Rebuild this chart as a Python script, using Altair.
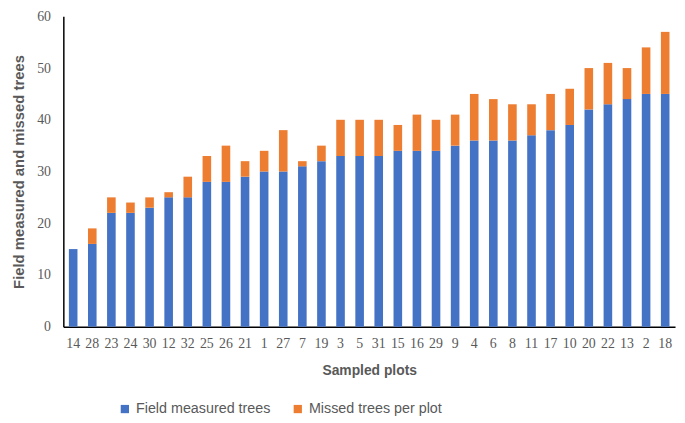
import altair as alt
import pandas as pd

plots = ["14", "28", "23", "24", "30", "12", "32", "25", "26", "21", "1", "27", "7", "19", "3",
         "5", "31", "15", "16", "29", "9", "4", "6", "8", "11", "17", "10", "20", "22", "13", "2", "18"]
field_measured = [15, 16, 22, 22, 23, 25, 25, 28, 28, 29, 30, 30, 31, 32, 33,
                  33, 33, 34, 34, 34, 35, 36, 36, 36, 37, 38, 39, 42, 43, 44, 45, 45]
missed = [0, 3, 3, 2, 2, 1, 4, 5, 7, 3, 4, 8, 1, 3, 7,
          7, 7, 5, 7, 6, 6, 9, 8, 7, 6, 7, 7, 8, 8, 6, 9, 12]

series = ["Field measured trees", "Missed trees per plot"]
colors = ["#4472C4", "#ED7D31"]

rows = []
for p, f, m in zip(plots, field_measured, missed):
    rows.append({"plot": p, "series": series[0], "value": f, "ord": 0})
    rows.append({"plot": p, "series": series[1], "value": m, "ord": 1})
df = pd.DataFrame(rows)

grey = "#595959"

chart = alt.Chart(df).mark_bar().encode(
    x=alt.X("plot:N", sort=plots,
            scale=alt.Scale(paddingInner=0.55, paddingOuter=0.29),
            axis=alt.Axis(title="Sampled plots", labelAngle=0, ticks=False,
                          domainColor="#000000", domainWidth=1.5,
                          labelFont="Liberation Serif", labelFontSize=14, labelColor=grey,
                          labelPadding=10,
                          titleFont="Liberation Sans", titleFontSize=14, titleFontWeight="bold",
                          titleColor=grey, titlePadding=13)),
    y=alt.Y("value:Q", stack="zero",
            scale=alt.Scale(domain=[0, 60], nice=False),
            axis=alt.Axis(title="Field measured and missed trees", values=[0, 10, 20, 30, 40, 50, 60],
                          grid=False, ticks=False, domainColor="#000000", domainWidth=1.5,
                          labelFont="Liberation Serif", labelFontSize=14, labelColor=grey,
                          labelPadding=13,
                          titleFont="Liberation Sans", titleFontSize=15, titleFontWeight="bold",
                          titleColor=grey, titlePadding=10)),
    color=alt.Color("series:N", scale=alt.Scale(domain=series, range=colors),
                    legend=alt.Legend(title=None, orient="none", direction="horizontal",
                                      legendX=55, legendY=390,
                                      symbolType="square", symbolSize=70, symbolStrokeWidth=0,
                                      labelFont="Liberation Sans", labelFontSize=14.5,
                                      labelColor=grey, columnPadding=20, labelLimit=300)),
    order=alt.Order("ord:Q", sort="ascending"),
).properties(
    width=619, height=314,
    autosize=alt.AutoSizeParams(type="none"),
    padding={"left": 56, "top": 6, "right": 2, "bottom": 92},
).configure_view(stroke=None)

chart.save("out.html", embed_options={"renderer": "svg", "actions": False})
